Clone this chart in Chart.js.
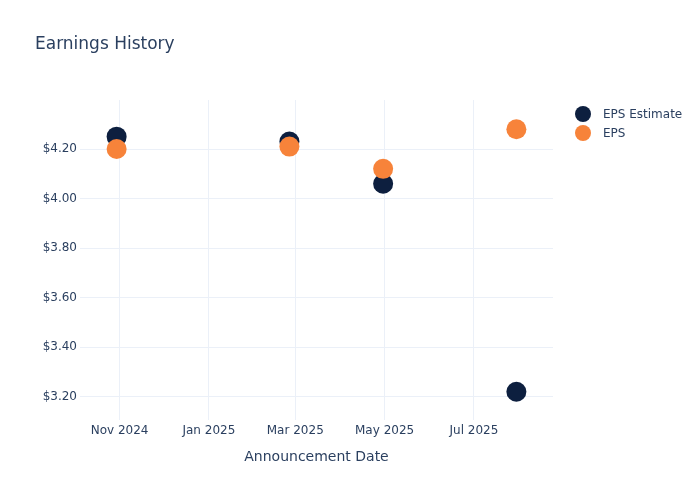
<!DOCTYPE html>
<html>
<head>
<meta charset="utf-8">
<script src="https://cdn.jsdelivr.net/npm/chart.js@4.4.1/dist/chart.umd.min.js"></script>
<style>
  html, body { margin: 0; padding: 0; background: #fff; }
  #wrap { position: relative; width: 700px; height: 500px; }
</style>
</head>
<body>
<div id="wrap"><canvas id="c" width="700" height="500"></canvas></div>
<script>
// ---- data ----
const announcementDates = ['2024-10-30', '2025-02-25', '2025-04-30', '2025-07-30'];
const epsEstimate = [4.25, 4.23, 4.06, 3.22];
const epsActual = [4.20, 4.21, 4.12, 4.28];
const xTickDates = ['2024-11-01', '2025-01-01', '2025-03-01', '2025-05-01', '2025-07-01'];
const xTickLabels = ['Nov 2024', 'Jan 2025', 'Mar 2025', 'May 2025', 'Jul 2025'];
const yTickValues = [3.2, 3.4, 3.6, 3.8, 4.0, 4.2];
const seriesNames = ['EPS Estimate', 'EPS'];
const chartTitle = 'Earnings History';
const xAxisTitle = 'Announcement Date';

// ---- helpers ----
const ts = d => Date.parse(d + 'T00:00:00Z');
const FONT = '"DejaVu Sans", Verdana, sans-serif';
const TXT = '#2a3f5f';
const GRID = '#ebf0f8';
const COLORS = ['#0d1f3f', '#f7833a'];

const xMin = ts('2024-10-05');
const xMax = ts('2025-08-24');

const datasets = [epsEstimate, epsActual].map((vals, i) => ({
  label: seriesNames[i],
  data: vals.map((v, j) => ({ x: ts(announcementDates[j]), y: v })),
  backgroundColor: COLORS[i],
  borderColor: COLORS[i],
  borderWidth: 0,
  pointRadius: 10,
  pointHoverRadius: 10,
  showLine: false,
  order: 1 - i
}));

const overlay = {
  id: 'overlay',
  afterDraw(chart) {
    const ctx = chart.ctx;
    ctx.save();
    // title
    ctx.fillStyle = TXT;
    ctx.font = '17px ' + FONT;
    ctx.textAlign = 'left';
    ctx.textBaseline = 'middle';
    ctx.fillText(chartTitle, 35, 45);
    // legend
    ctx.font = '12px ' + FONT;
    seriesNames.forEach((name, i) => {
      const y = 114 + i * 19;
      ctx.beginPath();
      ctx.fillStyle = COLORS[i];
      ctx.arc(583, y, 8, 0, Math.PI * 2);
      ctx.fill();
      ctx.fillStyle = TXT;
      ctx.fillText(name, 603, y + 1);
    });
    ctx.restore();
  }
};

new Chart(document.getElementById('c'), {
  type: 'scatter',
  data: { datasets },
  options: {
    responsive: false,
    animation: false,
    events: [],
    layout: { padding: { left: 0, right: 147, top: 100, bottom: 0 } },
    plugins: {
      legend: { display: false },
      title: { display: false },
      tooltip: { enabled: false }
    },
    scales: {
      x: {
        type: 'linear',
        min: xMin,
        max: xMax,
        afterFit(s) { s.height = 80; },
        afterBuildTicks(s) { s.ticks = xTickDates.map(d => ({ value: ts(d) })); },
        ticks: {
          autoSkip: false,
          maxRotation: 0,
          padding: 4,
          color: TXT,
          font: { family: FONT, size: 12 },
          callback(v) {
            const k = xTickDates.findIndex(d => ts(d) === v);
            return k >= 0 ? xTickLabels[k] : '';
          }
        },
        grid: { color: GRID, lineWidth: 1, drawTicks: false },
        border: { display: false },
        title: {
          display: true,
          text: xAxisTitle,
          color: TXT,
          font: { family: FONT, size: 14 },
          padding: { top: 0, bottom: 34 }
        }
      },
      y: {
        type: 'linear',
        min: 3.106,
        max: 4.398,
        afterFit(s) { s.width = 80; },
        afterBuildTicks(s) { s.ticks = yTickValues.map(v => ({ value: v })); },
        ticks: {
          padding: 3,
          color: TXT,
          font: { family: FONT, size: 12 },
          callback(v) { return '$' + Number(v).toFixed(2); }
        },
        grid: { color: GRID, lineWidth: 1, drawTicks: false },
        border: { display: false }
      }
    }
  },
  plugins: [overlay]
});
</script>
</body>
</html>
